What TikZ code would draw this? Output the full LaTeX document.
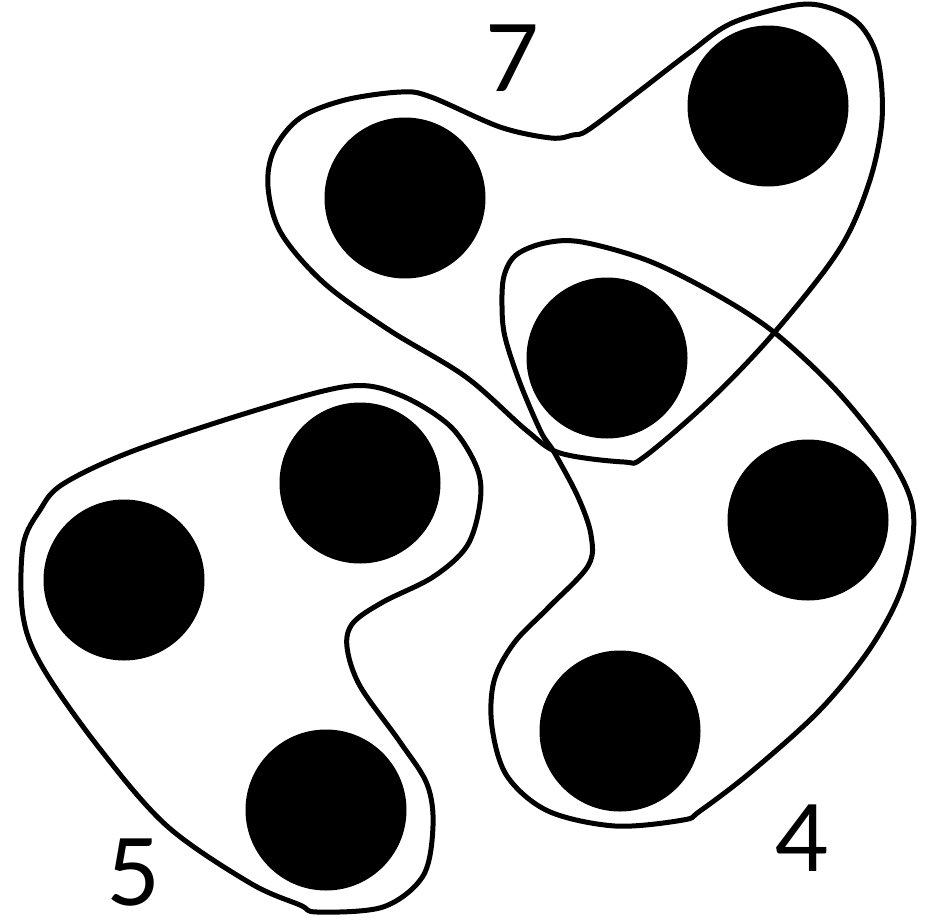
\documentclass[tikz,border=0pt]{standalone}
\usepackage{fontspec}
\setmainfont{Lato}
\begin{document}
\begin{tikzpicture}[x=1pt,y=-1pt,
  dot/.style={circle,fill=black,draw=none,minimum size=161pt,inner sep=0pt},
  blob/.style={draw=black,line width=5pt,line join=round},
  lbl/.style={inner sep=0pt,font=\fontsize{93}{93}\selectfont}]
\useasboundingbox[fill=white] (0,0) rectangle (927,921);
% dots
\node[dot] (d1) at (405,198) {};
\node[dot] (d2) at (768,106) {};
\node[dot] (d3) at (607,358) {};
\node[dot] (d4) at (808,520) {};
\node[dot] (d5) at (620,731) {};
\node[dot] (d6) at (360,483) {};
\node[dot] (d7) at (124,580) {};
\node[dot] (d8) at (326,810) {};
% blob 7
\draw[blob] plot[smooth cycle,tension=0.55] coordinates {
 (268,187) (281,233) (324,283) (389,330) (466,377) (526,430) (560,453)
 (624,462) (644,457) (710,400) (774,333) (839,250) (869,183) (882,120)
 (878,60) (860,25) (830,8) (796,5) (732,23) (689,53) (637,93) (588,130)
 (573,135) (551,138) (500,127) (431,97) (401,92) (345,100) (300,118) (274,150)};
% blob 4
\draw[blob] plot[smooth cycle,tension=0.55] coordinates {
 (502,306) (505,337) (520,383) (541,432) (554,452) (578,497) (591,535)
 (588,566) (548,608) (514,643) (494,681) (492,727) (507,776) (548,811)
 (615,826) (683,820) (700,811) (751,772) (819,711) (869,650) (900,593)
 (913,536) (910,497) (886,452) (836,390) (775,333) (717,295) (649,261)
 (582,242) (545,243) (516,255) (504,276)};
% blob 5
\draw[blob] plot[smooth cycle,tension=0.55] coordinates {
 (63,484) (133,451) (260,409) (350,386) (400,395) (450,426) (477,468)
 (480,503) (467,546) (433,577) (383,602) (353,623) (347,647) (360,686)
 (400,742) (427,784) (433,826) (423,876) (383,907) (317,912) (300,905)
 (250,883) (167,826) (100,749) (43,668) (23,616) (23,546) (40,510)};
% labels
\node[lbl] (l7) at (512,58) {7};
\node[lbl] (l4) at (802,838) {4};
\node[lbl] (l5) at (133,873) {5};
\end{tikzpicture}
\end{document}
